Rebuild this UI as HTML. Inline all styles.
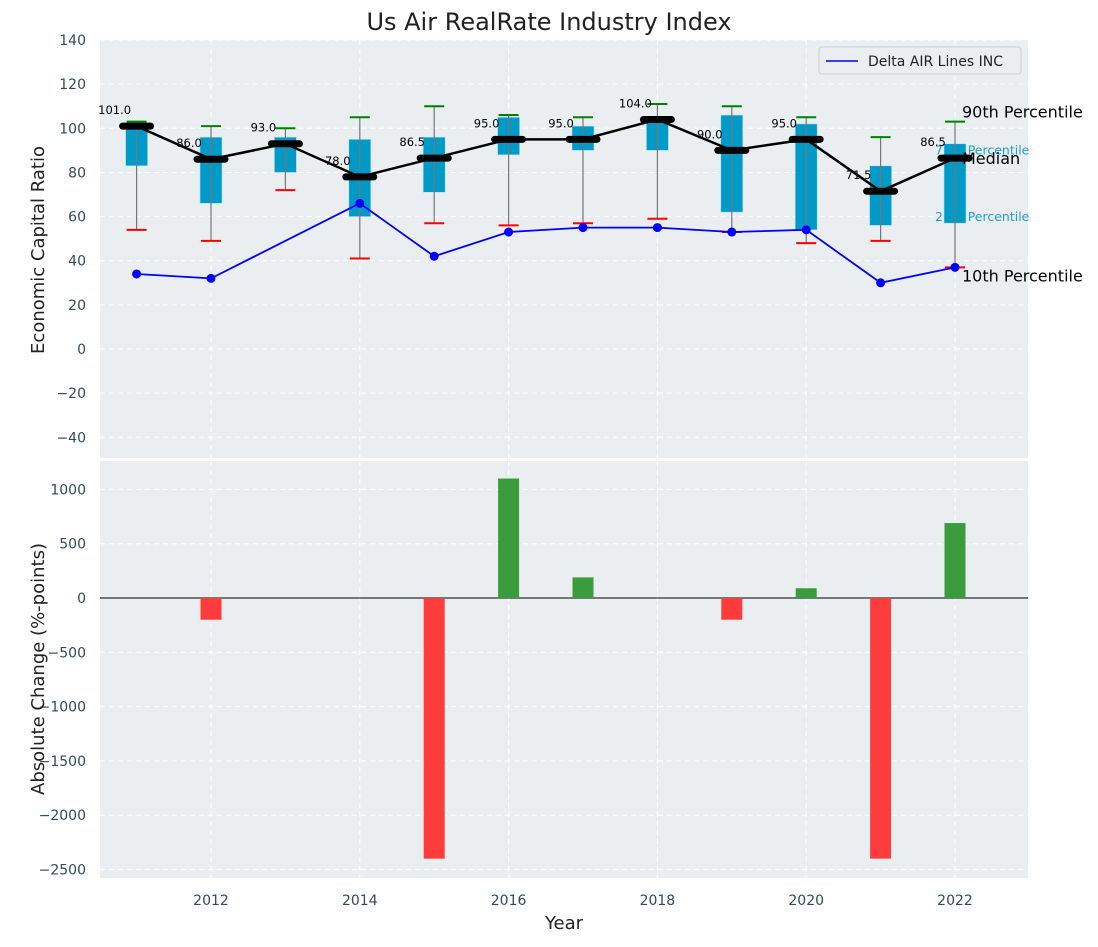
<!DOCTYPE html>
<html><head><meta charset="utf-8"><style>
body{margin:0;background:#fff;font-family:"Liberation Sans","DejaVu Sans",sans-serif}
svg text{font-family:"DejaVu Sans","Liberation Sans",sans-serif}
</style></head><body>
<svg id="c" width="1098" height="942" xmlns="http://www.w3.org/2000/svg"></svg>
<script>
const years=[2011,2012,2013,2014,2015,2016,2017,2018,2019,2020,2021,2022];
const p10=[54,49,72,41,57,56,57,59,53,48,49,37];
const p25=[83,66,80,60,71,88,90,90,62,54,56,57];
const median=[101,86,93,78,86.5,95,95,104,90,95,71.5,86.5];
const p75=[102,96,96,95,96,105,101,104,106,102,83,93];
const p90=[103,101,100,105,110,106,105,111,110,105,96,103];
const delta=[34,32,null,66,42,53,55,55,53,54,30,37];
const change=[0,-200,0,0,-2400,1100,190,0,-200,90,-2400,690];
const yTicks1=[140,120,100,80,60,40,20,0,-20,-40];
const yTicks2=[1000,500,0,-500,-1000,-1500,-2000,-2500];
const xTicks=[2012,2014,2016,2018,2020,2022];

const svg=document.getElementById('c');
const NS='http://www.w3.org/2000/svg';
function el(tag,attrs,parent){const e=document.createElementNS(NS,tag);for(const k in attrs)e.setAttribute(k,attrs[k]);(parent||svg).appendChild(e);return e;}
const X=y=>136.6+(y-2011)*74.4;
const Y1=v=>349-v*2.207;
const Y2=v=>598-v*0.1086;

let t=el('text',{x:549,y:30,'font-size':24,'text-anchor':'middle',fill:'#222'});t.textContent='Us Air RealRate Industry Index';


let p1=el('rect',{x:100,y:40,width:928,height:418,fill:'#eaeef0'});

let p2=el('rect',{x:100,y:461,width:928,height:417,fill:'#eaeef0'});


xTicks.forEach(x=>{
  el('line',{x1:X(x),x2:X(x),y1:40,y2:458,stroke:'#fff','stroke-dasharray':'5,4','stroke-width':1});
  el('line',{x1:X(x),x2:X(x),y1:461,y2:878,stroke:'#fff','stroke-dasharray':'5,4','stroke-width':1});
  let tx=el('text',{x:X(x),y:905,'font-size':14,'text-anchor':'middle',fill:'#34495e'});tx.textContent=x;
  
});
yTicks1.forEach(v=>{
  el('line',{x1:100,x2:1028,y1:Y1(v),y2:Y1(v),stroke:'#fff','stroke-dasharray':'5,4'});
  let tx=el('text',{x:86,y:Y1(v)+5,'font-size':14,'text-anchor':'end',fill:'#34495e'});tx.textContent=v<0?'\u2212'+(-v):v;
  
});
yTicks2.forEach(v=>{
  el('line',{x1:100,x2:1028,y1:Y2(v),y2:Y2(v),stroke:'#fff','stroke-dasharray':'5,4'});
  let tx=el('text',{x:86,y:Y2(v)+5,'font-size':14,'text-anchor':'end',fill:'#34495e'});tx.textContent=v<0?'\u2212'+(-v):v;
  
});

let ya=el('text',{x:0,y:0,'font-size':18,'text-anchor':'middle',fill:'#222',transform:'translate(44,250) rotate(-90)'});ya.textContent='Economic Capital Ratio';

let yb=el('text',{x:0,y:0,'font-size':18,'text-anchor':'middle',fill:'#222',transform:'translate(44,669) rotate(-90)'});yb.textContent='Absolute Change (%-points)';

let xa=el('text',{x:564,y:929,'font-size':18,'text-anchor':'middle',fill:'#222'});xa.textContent='Year';


const ly=years.length-1;
let l75=el('text',{x:935,y:Y1(p75[ly])+11,'font-size':12.5,fill:'#1e9fd0'});l75.textContent='75th Percentile';

let l25=el('text',{x:935,y:Y1(p25[ly])-2,'font-size':12.5,fill:'#1e9fd0'});l25.textContent='25th Percentile';


years.forEach((yr,i)=>{
  let b=el('rect',{x:X(yr)-11,y:Y1(p75[i]),width:22,height:Y1(p25[i])-Y1(p75[i]),fill:'#009ac9',stroke:'#b0e0ee','stroke-width':0.6});
  
  let w=el('line',{x1:X(yr),x2:X(yr),y1:Y1(p90[i]),y2:Y1(p10[i]),stroke:'#777','stroke-width':1.2});
  
  let c1=el('line',{x1:X(yr)-10,x2:X(yr)+10,y1:Y1(p90[i]),y2:Y1(p90[i]),stroke:'green','stroke-width':2});
  
  let c2=el('line',{x1:X(yr)-10,x2:X(yr)+10,y1:Y1(p10[i]),y2:Y1(p10[i]),stroke:'red','stroke-width':2});
  
});

let mp=years.map((y,i)=>X(y)+','+Y1(median[i])).join(' ');
let ml=el('polyline',{points:mp,fill:'none',stroke:'#000','stroke-width':2.5});

years.forEach((yr,i)=>{
  let m=el('line',{x1:X(yr)-14,x2:X(yr)+14,y1:Y1(median[i]),y2:Y1(median[i]),stroke:'#000','stroke-width':7,'stroke-linecap':'round'});
  
  let tl=el('text',{x:X(yr)-22,y:Y1(median[i])-12,'font-size':11.5,'text-anchor':'middle',fill:'#000'});tl.textContent=median[i].toFixed(1);
  
});

let cur=[];
years.forEach((y,i)=>{if(delta[i]!=null)cur.push(X(y)+','+Y1(delta[i]));});
let dl=el('polyline',{points:cur.join(' '),fill:'none',stroke:'#0000ff','stroke-width':1.8});

years.forEach((y,i)=>{if(delta[i]==null)return;
  let d=el('circle',{cx:X(y),cy:Y1(delta[i]),r:4.5,fill:'#0000ff'});
  });

[['90th Percentile',Y1(p90[ly])-4,'p90-label'],['Median',Y1(median[ly])+6,'median-label'],['10th Percentile',Y1(p10[ly])+14,'p10-label']].forEach(a=>{
  let tx=el('text',{x:962,y:a[1],'font-size':16,fill:'#000'});tx.textContent=a[0];
  
});

let lg=el('g',{});
el('rect',{x:819,y:47,width:202,height:27,rx:3,fill:'#eaeef0',stroke:'#ccc'},lg);
el('line',{x1:826,x2:858,y1:61,y2:61,stroke:'#0000ff','stroke-width':1.6},lg);
let lt=el('text',{x:868,y:66,'font-size':14,fill:'#222'},lg);lt.textContent='Delta AIR Lines INC';

el('line',{x1:100,x2:1028,y1:Y2(0),y2:Y2(0),stroke:'#000','stroke-width':1});
years.forEach((yr,i)=>{
  const v=change[i];if(v===0)return;
  let r=el('rect',{x:X(yr)-10.5,y:Math.min(Y2(v),Y2(0)),width:21,height:Math.abs(Y2(v)-Y2(0)),fill:v>0?'#3a9c3a':'#ff3c3c'});
  
});
</script>
</body></html>
